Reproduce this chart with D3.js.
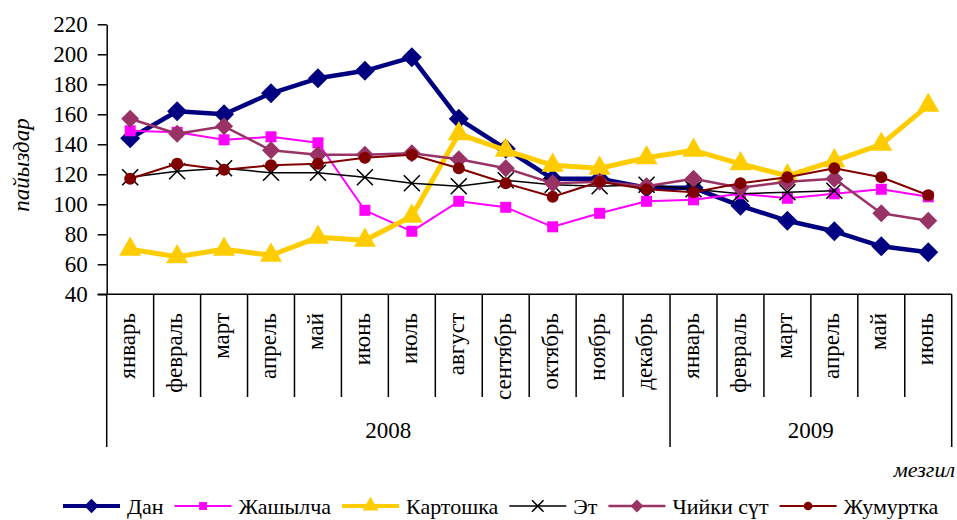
<!DOCTYPE html>
<html>
<head>
<meta charset="utf-8">
<script src="https://cdn.jsdelivr.net/npm/d3@7"></script>
<style>
  body { margin: 0; background: #fff; }
  svg { display: block; }
  svg text { font-family: "Liberation Serif", "DejaVu Serif", "Times New Roman", serif; fill: #000; }
</style>
</head>
<body>
<div id="chart"></div>
<script>
// month labels (two years on a multi-level axis)
var months = ["январь", "февраль", "март", "апрель", "май", "июнь", "июль", "август",
  "сентябрь", "октябрь", "ноябрь", "декабрь",
  "январь", "февраль", "март", "апрель", "май", "июнь"];
var years = ["2008", "2009"];
var yearSpans = [12, 6]; // months in each year group

var yTicks = [40, 60, 80, 100, 120, 140, 160, 180, 200, 220];

// series values
var dan = [144, 162, 160, 174, 184, 189, 198, 157, 137, 117, 117, 111, 111, 99, 89, 82, 72, 68];
var zhashylcha = [149, 148, 143, 145, 141, 96, 82, 102, 98, 85, 94, 102, 103, 107, 104, 107, 110, 105];
var kartoshka = [70, 65, 70, 66, 78, 76, 92, 147, 136, 126, 124, 131, 136, 127, 119, 129, 140, 166];
var et = [118, 122, 124, 121, 121, 118, 114, 112, 116, 113, 112, 113, 110, 107, 108, 109, null, null];
var chiykiSut = [157, 147, 152, 136, 133, 133, 134, 130, 124, 114, 115, 112, 117, 111, 115, 117, 94, 89];
var zhumurtka = [117, 127, 123, 126, 127, 131, 133, 124, 114, 105, 115, 110, 108, 114, 118, 124, 118, 106];

var seriesNames = ["Дан", "Жашылча", "Картошка", "Эт", "Чийки сүт", "Жумуртка"];
var seriesValues = [dan, zhashylcha, kartoshka, et, chiykiSut, zhumurtka];

// look of each series (Excel-like)
var styles = [
  {color: "#000080", width: 4.5, marker: "diamond", size: 10},
  {color: "#ff00ff", width: 2, marker: "square", size: 5.5},
  {color: "#ffcc00", width: 5, marker: "triangle", size: 11},
  {color: "#000000", width: 1.5, marker: "x", size: 8},
  {color: "#993366", width: 2.5, marker: "diamond", size: 9},
  {color: "#800000", width: 2, marker: "circle", size: 6}
];

var width = 957, height = 520;
var plotLeft = 106.7, plotRight = 951.7, plotTop = 24.3, plotBottom = 294.3;
var monthBottom = 397, yearBottom = 447;
var serif = "Liberation Serif, DejaVu Serif, serif";

var svg = d3.select("#chart").append("svg")
  .attr("width", width)
  .attr("height", height);

var x = d3.scaleBand()
  .domain(d3.range(months.length))
  .range([plotLeft, plotRight])
  .padding(0);

var y = d3.scaleLinear()
  .domain([40, 220])
  .range([plotBottom, plotTop]);

function cx(i) { return x(i) + x.bandwidth() / 2; }

// y axis
var yAxis = svg.append("g")
  .attr("transform", "translate(" + plotLeft + ",0)")
  .call(d3.axisLeft(y).tickValues(yTicks).tickSize(9).tickSizeOuter(0).tickPadding(10));
yAxis.attr("font-family", serif).attr("font-size", 23);
yAxis.select(".domain").attr("stroke", "#000").attr("stroke-width", 1.5);
yAxis.selectAll(".tick line").attr("stroke", "#000").attr("stroke-width", 1.5);
yAxis.selectAll(".tick text")
  .attr("font-size", 23)
  .attr("font-family", serif)
  .attr("fill", "#000");

// category axis: baseline, month separators, year separators
var catG = svg.append("g").attr("stroke", "#000").attr("stroke-width", 1.5);
catG.append("line")
  .attr("x1", plotLeft - 9).attr("x2", plotRight)
  .attr("y1", plotBottom).attr("y2", plotBottom);

var yearEdges = [0];
yearSpans.forEach(function(n, k) { yearEdges.push(yearEdges[k] + n); });

for (var i = 0; i <= months.length; i++) {
  var xe = i < months.length ? x(i) : plotRight;
  var isYear = yearEdges.indexOf(i) >= 0;
  catG.append("line")
    .attr("x1", xe).attr("x2", xe)
    .attr("y1", plotBottom).attr("y2", isYear ? yearBottom : monthBottom);
}

svg.append("g").selectAll("text.month")
  .data(months)
  .enter()
  .append("text")
  .attr("class", "month")
  .attr("transform", function(d, i) { return "translate(" + cx(i) + ",313) rotate(-90)"; })
  .attr("text-anchor", "end")
  .attr("dy", "0.22em")
  .attr("font-size", 23)
  .text(function(d) { return d; });

svg.append("g").selectAll("text.year")
  .data(years)
  .enter()
  .append("text")
  .attr("class", "year")
  .attr("x", function(d, k) {
    var a = x(yearEdges[k]);
    var b = yearEdges[k + 1] < months.length ? x(yearEdges[k + 1]) : plotRight;
    return (a + b) / 2;
  })
  .attr("y", 438)
  .attr("text-anchor", "middle")
  .attr("font-size", 23)
  .text(function(d) { return d; });

// axis titles
svg.append("text")
  .attr("transform", "translate(29,165) rotate(-90)")
  .attr("text-anchor", "middle")
  .attr("font-size", 23)
  .attr("font-style", "italic")
  .text("пайыздар");

svg.append("text")
  .attr("x", 955)
  .attr("y", 477)
  .attr("text-anchor", "end")
  .attr("font-size", 22)
  .attr("font-style", "italic")
  .text("мезгил");

// marker drawing
function drawMarker(g, type, s, color) {
  if (type === "diamond") {
    g.append("path").attr("d", "M0," + (-s) + "L" + s + ",0L0," + s + "L" + (-s) + ",0Z").attr("fill", color);
  } else if (type === "square") {
    g.append("rect").attr("x", -s).attr("y", -s).attr("width", 2 * s).attr("height", 2 * s).attr("fill", color);
  } else if (type === "triangle") {
    var h = s * Math.sqrt(3);
    g.append("path").attr("d", "M0," + (-h * 2 / 3) + "L" + s + "," + (h / 3) + "L" + (-s) + "," + (h / 3) + "Z").attr("fill", color);
  } else if (type === "circle") {
    g.append("circle").attr("r", s).attr("fill", color);
  } else if (type === "x") {
    g.append("path").attr("d", "M" + (-s) + "," + (-s) + "L" + s + "," + s + "M" + (-s) + "," + s + "L" + s + "," + (-s))
      .attr("stroke", color).attr("stroke-width", 1.6).attr("fill", "none");
  }
}

var line = d3.line()
  .defined(function(d) { return d != null; })
  .x(function(d, i) { return cx(i); })
  .y(function(d) { return y(d); });

seriesValues.forEach(function(vals, k) {
  var st = styles[k];
  var g = svg.append("g").attr("class", "series");
  g.append("path")
    .datum(vals)
    .attr("d", line)
    .attr("fill", "none")
    .attr("stroke", st.color)
    .attr("stroke-width", st.width)
    .attr("stroke-linejoin", "round");
  vals.forEach(function(v, i) {
    if (v == null) return;
    var mg = g.append("g").attr("transform", "translate(" + cx(i) + "," + y(v) + ")");
    drawMarker(mg, st.marker, st.size, st.color);
  });
});

// legend
var legend = svg.append("g").attr("class", "legend");
var lx = 63, ly = 506;
seriesNames.forEach(function(name, k) {
  var st = styles[k];
  legend.append("line")
    .attr("x1", lx).attr("x2", lx + 57)
    .attr("y1", ly).attr("y2", ly)
    .attr("stroke", st.color)
    .attr("stroke-width", Math.min(st.width, 4));
  var mg = legend.append("g").attr("transform", "translate(" + (lx + 28.5) + "," + ly + ")");
  drawMarker(mg, st.marker, st.size * 0.72, st.color);
  var t = legend.append("text")
    .attr("x", lx + 64)
    .attr("y", ly + 8)
    .attr("font-size", 22)
    .text(name);
  lx = lx + 64 + t.node().getComputedTextLength() + 11;
});
</script>
</body>
</html>
